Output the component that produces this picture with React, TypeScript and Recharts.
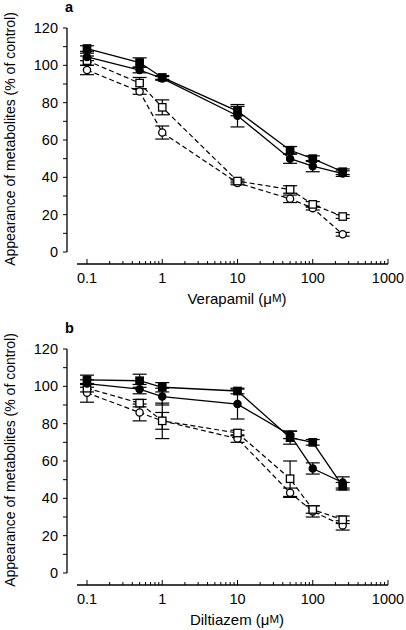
import React from 'react'
import { LineChart, Line, XAxis, YAxis, ErrorBar, ReferenceLine } from 'recharts'

const FONT = '"Liberation Sans", Arial, Helvetica, sans-serif'

// concentrations (µM), shared by both panels
const doses = [0.1, 0.5, 1, 10, 50, 100, 250]

// panel a - verapamil
const verFilledSquare = [109, 101.5, 93.5, 75.5, 54.5, 50, 43]
const verFilledSquareErr = [1.5, 2.5, 1, 2.5, 2, 1.5, 1.5]
const verFilledCircle = [104.5, 97.5, 93, 73, 50, 46, 42]
const verFilledCircleErr = [2, 1.5, 1, 6, 2.5, 3, 1.5]
const verOpenSquare = [102.5, 90.5, 77.5, 38, 33.5, 25.5, 19]
const verOpenSquareErr = [2.5, 3, 4, 1, 2, 1.5, 1]
const verOpenCircle = [97.5, 86, 64, 37, 28.5, 23.5, 9.5]
const verOpenCircleErr = [2.5, 1.5, 3.5, 1, 2, 1, 1]

// panel b - diltiazem
const dilFilledSquare = [103.5, 103, 99.5, 97.5, 72.5, 70, 46.5]
const dilFilledSquareErr = [2.5, 3.5, 2.5, 1.5, 3.5, 1.5, 2]
const dilFilledCircle = [101.5, 98.5, 94.5, 90.5, 74, 56, 48.5]
const dilFilledCircleErr = [2, 2.5, 4.5, 8, 2, 3, 3]
const dilOpenSquare = [99, 91, 81.5, 75, 50.5, 34, 28.5]
const dilOpenSquareErr = [2, 2, 4.5, 1.5, 9.5, 2, 2]
const dilOpenCircle = [96.5, 86, 81.5, 72, 43, 33, 25.5]
const dilOpenCircleErr = [5, 4.5, 9.5, 2, 2.5, 3, 2.5]

// axis ticks
const decades = [0.1, 1, 10, 100, 1000]
const minorSteps = [2, 3, 4, 5, 6, 7, 8, 9]
const yTicks = [0, 10, 20, 30, 40, 50, 60, 70, 80, 90, 100, 110, 120]

const xTicks = decades.flatMap((d, i) =>
  i < decades.length - 1 ? [d, ...minorSteps.map(m => +(d * m).toPrecision(3))] : [d]
)

// domains chosen so the y axis sits left of 0.1 and the x axis sits below 0
const X_MIN = 0.05423
const X_LINE_START = 0.0736
const Y_MIN = -6.43

type Row = { x: number; fs: number; fsE: number; fc: number; fcE: number; os: number; osE: number; oc: number; ocE: number }

function buildRows(fs: number[], fsE: number[], fc: number[], fcE: number[], os: number[], osE: number[], oc: number[], ocE: number[]): Row[] {
  return doses.map((x, i) => ({
    x,
    fs: fs[i], fsE: fsE[i],
    fc: fc[i], fcE: fcE[i],
    os: os[i], osE: osE[i],
    oc: oc[i], ocE: ocE[i],
  }))
}

const verRows = buildRows(verFilledSquare, verFilledSquareErr, verFilledCircle, verFilledCircleErr, verOpenSquare, verOpenSquareErr, verOpenCircle, verOpenCircleErr)
const dilRows = buildRows(dilFilledSquare, dilFilledSquareErr, dilFilledCircle, dilFilledCircleErr, dilOpenSquare, dilOpenSquareErr, dilOpenCircle, dilOpenCircleErr)

// eslint-disable-next-line @typescript-eslint/no-explicit-any
const squareDot = (fill: string) => (p: any) => (
  <rect key={p.key ?? p.index} x={p.cx - 3.7} y={p.cy - 3.7} width={7.4} height={7.4} fill={fill} stroke="#000" strokeWidth={1.3} />
)
// eslint-disable-next-line @typescript-eslint/no-explicit-any
const circleDot = (fill: string) => (p: any) => (
  <circle key={p.key ?? p.index} cx={p.cx} cy={p.cy} r={3.6} fill={fill} stroke="#000" strokeWidth={1.3} />
)

// eslint-disable-next-line @typescript-eslint/no-explicit-any
const LogTick = (props: any) => {
  const { x, y, payload } = props
  const v = payload.value
  const major = decades.includes(v)
  return (
    <g>
      <line x1={x} x2={x} y1={y} y2={y - (major ? 5 : 3)} stroke="#000" strokeWidth={1} />
      {major && (
        <text x={x} y={y + 14} textAnchor="middle" dominantBaseline="central" fontSize={14.5} fontFamily={FONT} fill="#000">
          {String(v)}
        </text>
      )}
    </g>
  )
}

interface PanelProps {
  letter: string
  drug: string
  rows: Row[]
  height: number
}

function Panel({ letter, drug, rows, height }: PanelProps) {
  const dash = '5 3'
  return (
    <LineChart width={406} height={height} data={rows} margin={{ top: 28, right: 18, bottom: 0, left: 0 }}>
      <XAxis
        dataKey="x"
        type="number"
        scale="log"
        domain={[X_MIN, 1000]}
        allowDataOverflow
        ticks={xTicks}
        interval={0}
        axisLine={false}
        tickLine={false}
        tickSize={0}
        tickMargin={0}
        height={height - 264}
        tick={<LogTick />}
        label={{
          // eslint-disable-next-line @typescript-eslint/no-explicit-any
          content: (p: any) => {
            const vb = p.viewBox || { x: 67, y: 264 }
            return (
              <text x={vb.x + 170} y={vb.y + 34} textAnchor="middle" dominantBaseline="central" fontSize={15} fontFamily={FONT} fill="#000">
                {drug} (μ<tspan fontSize={11.5}>M</tspan>)
              </text>
            )
          },
        }}
      />
      <YAxis
        type="number"
        domain={[Y_MIN, 120]}
        allowDataOverflow
        ticks={yTicks}
        interval={0}
        width={67}
        axisLine={false}
        tickLine={{ stroke: '#000', strokeWidth: 1 }}
        tickSize={4}
        tickMargin={5}
        tick={{ fill: '#000', fontSize: 14.5, fontFamily: FONT }}
        tickFormatter={(v: number) => (v % 20 === 0 ? String(v) : '')}
        label={{
          // eslint-disable-next-line @typescript-eslint/no-explicit-any
          content: (p: any) => {
            const vb = p.viewBox || { x: 0, y: 28 }
            return (
              <g>
                <text
                  x={10}
                  y={vb.y + 111}
                  transform={`rotate(-90, 10, ${vb.y + 111})`}
                  textAnchor="middle"
                  dominantBaseline="central"
                  fontSize={14}
                  fontFamily={FONT}
                  fill="#000"
                >
                  Appearance of metabolites (% of control)
                </text>
                <text x={65} y={vb.y - 16} fontSize={14.5} fontWeight="bold" fontFamily={FONT} fill="#000">
                  {letter}
                </text>
              </g>
            )
          },
        }}
      />
      {/* axis lines drawn separately so they don't meet at the corner */}
      <ReferenceLine segment={[{ x: X_MIN, y: 0 }, { x: X_MIN, y: 120 }]} stroke="#000" strokeWidth={1.3} ifOverflow="visible" />
      <ReferenceLine segment={[{ x: X_LINE_START, y: Y_MIN }, { x: 1000, y: Y_MIN }]} stroke="#000" strokeWidth={1.3} ifOverflow="visible" />

      <Line dataKey="oc" type="linear" stroke="#000" strokeWidth={1.2} strokeDasharray={dash} dot={circleDot('#fff')} isAnimationActive={false}>
        <ErrorBar dataKey="ocE" width={7} stroke="#000" strokeWidth={1.2} direction="y" />
      </Line>
      <Line dataKey="os" type="linear" stroke="#000" strokeWidth={1.2} strokeDasharray={dash} dot={squareDot('#fff')} isAnimationActive={false}>
        <ErrorBar dataKey="osE" width={7} stroke="#000" strokeWidth={1.2} direction="y" />
      </Line>
      <Line dataKey="fc" type="linear" stroke="#000" strokeWidth={1.3} dot={circleDot('#000')} isAnimationActive={false}>
        <ErrorBar dataKey="fcE" width={7} stroke="#000" strokeWidth={1.2} direction="y" />
      </Line>
      <Line dataKey="fs" type="linear" stroke="#000" strokeWidth={1.3} dot={squareDot('#000')} isAnimationActive={false}>
        <ErrorBar dataKey="fsE" width={7} stroke="#000" strokeWidth={1.2} direction="y" />
      </Line>
    </LineChart>
  )
}

export default function App() {
  return (
    <div style={{ position: 'absolute', left: 0, top: 0, width: 406, height: 630, background: '#fff' }}>
      <Panel letter="a" drug="Verapamil" rows={verRows} height={321} />
      <Panel letter="b" drug="Diltiazem" rows={dilRows} height={309} />
    </div>
  )
}
